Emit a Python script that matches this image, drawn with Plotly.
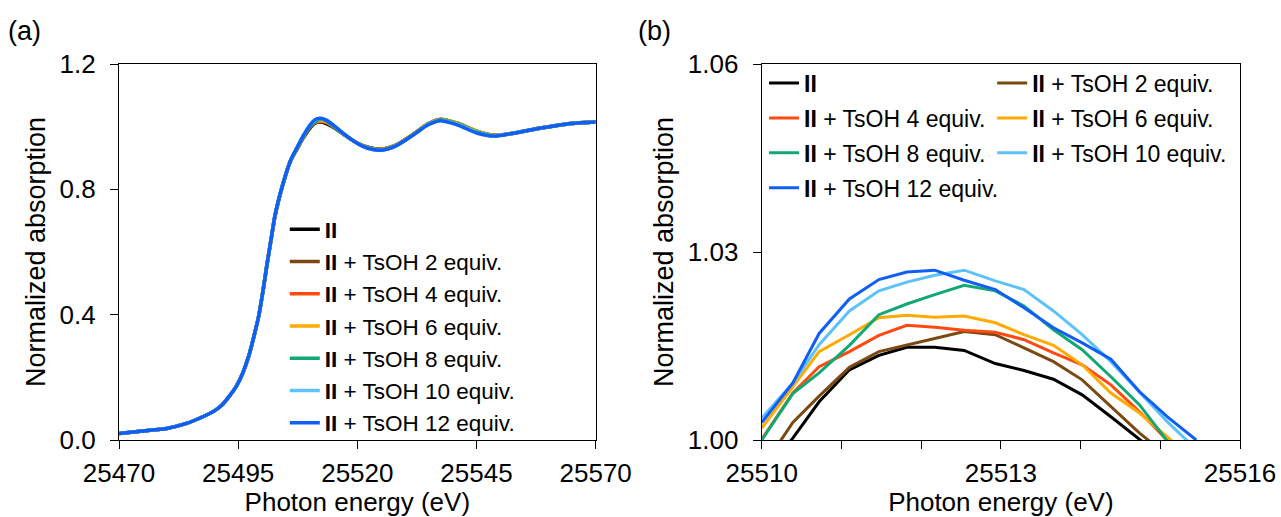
import plotly.graph_objects as go

# ---------------- data: panel (a) ----------------
energy_a = [25470, 25475, 25480, 25484, 25487.7, 25490, 25491.6, 25493, 25494.6, 25496,
            25497.2, 25498.3, 25499.3, 25500.2, 25501, 25502, 25502.7, 25503.8, 25504.9, 25506,
            25507.4, 25508.7, 25510, 25511, 25512.2, 25513.5, 25515.2, 25516.8, 25518.6, 25520.3,
            25522, 25525, 25528, 25531.4, 25534.9, 25537.4, 25540.9, 25545.2, 25548.6, 25552,
            25558, 25564.9, 25570]

a_II = [0.021, 0.029, 0.037, 0.052, 0.075, 0.093, 0.112, 0.137, 0.171, 0.215,
        0.267, 0.330, 0.395, 0.475, 0.555, 0.648, 0.712, 0.783, 0.842, 0.891,
        0.930, 0.965, 0.994, 1.010, 1.015, 1.010, 0.996, 0.979, 0.960, 0.945,
        0.935, 0.928, 0.940, 0.972, 1.009, 1.023, 1.011, 0.984, 0.972, 0.977,
        0.994, 1.010, 1.015]
a_2eq = [0.021, 0.029, 0.037, 0.052, 0.075, 0.093, 0.112, 0.137, 0.171, 0.215,
         0.267, 0.330, 0.395, 0.475, 0.555, 0.648, 0.712, 0.783, 0.842, 0.891,
         0.931, 0.966, 0.995, 1.011, 1.016, 1.013, 0.997, 0.980, 0.961, 0.945,
         0.935, 0.928, 0.941, 0.973, 1.010, 1.024, 1.012, 0.985, 0.973, 0.978,
         0.995, 1.011, 1.015]
a_4eq = [0.021, 0.029, 0.037, 0.052, 0.075, 0.093, 0.112, 0.137, 0.171, 0.215,
         0.267, 0.330, 0.395, 0.475, 0.555, 0.649, 0.713, 0.784, 0.843, 0.892,
         0.932, 0.968, 1.000, 1.013, 1.018, 1.015, 0.998, 0.980, 0.961, 0.945,
         0.934, 0.927, 0.940, 0.972, 1.009, 1.023, 1.011, 0.984, 0.972, 0.977,
         0.994, 1.010, 1.015]
a_6eq = [0.021, 0.029, 0.037, 0.052, 0.075, 0.093, 0.112, 0.137, 0.171, 0.215,
         0.267, 0.330, 0.395, 0.475, 0.556, 0.650, 0.714, 0.785, 0.844, 0.893,
         0.934, 0.970, 1.002, 1.016, 1.020, 1.016, 0.999, 0.980, 0.961, 0.945,
         0.934, 0.927, 0.940, 0.972, 1.009, 1.023, 1.012, 0.985, 0.972, 0.977,
         0.994, 1.010, 1.015]
a_8eq = [0.021, 0.029, 0.037, 0.052, 0.075, 0.093, 0.112, 0.137, 0.171, 0.215,
         0.267, 0.330, 0.395, 0.475, 0.556, 0.650, 0.714, 0.785, 0.844, 0.893,
         0.933, 0.969, 1.000, 1.014, 1.024, 1.019, 0.998, 0.980, 0.961, 0.945,
         0.933, 0.926, 0.939, 0.971, 1.008, 1.022, 1.010, 0.983, 0.971, 0.977,
         0.994, 1.010, 1.015]
a_10eq = [0.021, 0.029, 0.037, 0.052, 0.075, 0.093, 0.112, 0.137, 0.171, 0.215,
          0.267, 0.330, 0.395, 0.475, 0.555, 0.650, 0.715, 0.785, 0.843, 0.892,
          0.935, 0.972, 1.004, 1.020, 1.026, 1.022, 1.002, 0.982, 0.961, 0.944,
          0.932, 0.925, 0.938, 0.970, 1.007, 1.020, 1.008, 0.981, 0.971, 0.977,
          0.994, 1.010, 1.015]
a_12eq = [0.021, 0.029, 0.037, 0.052, 0.075, 0.093, 0.112, 0.137, 0.171, 0.215,
          0.267, 0.330, 0.395, 0.475, 0.555, 0.650, 0.715, 0.785, 0.843, 0.892,
          0.935, 0.972, 1.003, 1.021, 1.027, 1.020, 1.002, 0.982, 0.961, 0.944,
          0.932, 0.925, 0.938, 0.970, 1.006, 1.019, 1.006, 0.979, 0.970, 0.977,
          0.994, 1.010, 1.015]

# ---------------- data: panel (b) ----------------
energy_b = [25510.00, 25510.39, 25510.72, 25511.10, 25511.47, 25511.82, 25512.17, 25512.54,
            25512.93, 25513.29, 25513.66, 25514.02, 25514.38, 25514.74, 25515.09, 25515.45]

b_II = [0.9944, 1.0003, 1.0061, 1.0112, 1.0135, 1.0148, 1.0148, 1.0143,
        1.0122, 1.0111, 1.0097, 1.0072, 1.0037, 1.0001, 0.9965, 0.9930]
b_2eq = [0.9954, 1.0028, 1.0070, 1.0116, 1.0141, 1.0152, 1.0162, 1.0173,
         1.0168, 1.0147, 1.0125, 1.0096, 1.0053, 1.0011, 0.9975, 0.9940]
b_4eq = [1.0001, 1.0075, 1.0117, 1.0141, 1.0167, 1.0183, 1.0180, 1.0175,
         1.0172, 1.0160, 1.0139, 1.0120, 1.0088, 1.0045, 0.9999, 0.9955]
b_6eq = [1.0019, 1.0085, 1.0141, 1.0168, 1.0195, 1.0199, 1.0196, 1.0198,
         1.0187, 1.0168, 1.0151, 1.0120, 1.0075, 1.0043, 1.0004, 0.9965]
b_8eq = [1.0000, 1.0074, 1.0107, 1.0151, 1.0200, 1.0217, 1.0232, 1.0247,
         1.0238, 1.0214, 1.0176, 1.0144, 1.0101, 1.0056, 0.9998, 0.9940]
b_10eq = [1.0035, 1.0091, 1.0152, 1.0206, 1.0238, 1.0252, 1.0263, 1.0271,
          1.0254, 1.0240, 1.0206, 1.0168, 1.0125, 1.0077, 1.0029, 0.9985]
b_12eq = [1.0028, 1.0091, 1.0170, 1.0225, 1.0256, 1.0268, 1.0271, 1.0255,
          1.0240, 1.0211, 1.0179, 1.0155, 1.0129, 1.0077, 1.0037, 1.0000]

series_names = ["<b>II</b>",
                "<b>II</b> + TsOH 2 equiv.",
                "<b>II</b> + TsOH 4 equiv.",
                "<b>II</b> + TsOH 6 equiv.",
                "<b>II</b> + TsOH 8 equiv.",
                "<b>II</b> + TsOH 10 equiv.",
                "<b>II</b> + TsOH 12 equiv."]
series_colors = ["#000000", "#7B4A12", "#FF4A10", "#FFAA00", "#12A874", "#5EC2FA", "#0F5EF5"]

xticks_a = [25470, 25495, 25520, 25545, 25570]
xticklabels_a = ["25470", "25495", "25520", "25545", "25570"]
yticks_a = [0.0, 0.4, 0.8, 1.2]
yticklabels_a = ["0.0", "0.4", "0.8", "1.2"]
xticks_b = [25510, 25511, 25512, 25513, 25514, 25515, 25516]
xticklabels_b = ["25510", "", "", "25513", "", "", "25516"]
yticks_b = [1.00, 1.03, 1.06]
yticklabels_b = ["1.00", "1.03", "1.06"]

FONT = "Liberation Sans, Arial, sans-serif"

# ---------------- geometry (pixels) ----------------
W, H = 1281, 517
ML, MR, MT, MB = 119.3, 41.3, 64.3, 77
PW = W - ML - MR
PH = H - MT - MB


def px_x(p):
    return (p - ML) / PW


def px_y(p):
    return 1 - (p - MT) / PH


fig = go.Figure()

a_series = [a_II, a_2eq, a_4eq, a_6eq, a_8eq, a_10eq, a_12eq]
b_series = [b_II, b_2eq, b_4eq, b_6eq, b_8eq, b_10eq, b_12eq]

for i, ys in enumerate(a_series):
    fig.add_trace(go.Scatter(
        x=energy_a, y=ys, mode="lines", name=series_names[i],
        line=dict(color=series_colors[i], width=3.5, shape="spline", smoothing=0.8),
        xaxis="x", yaxis="y", legend="legend"))

for i, ys in enumerate(b_series):
    fig.add_trace(go.Scatter(
        x=energy_b, y=ys, mode="lines", name=series_names[i],
        line=dict(color=series_colors[i], width=3),
        xaxis="x2", yaxis="y2",
        legend="legend2" if i % 2 == 0 else "legend3",
        legendgroup="b%d" % i))

axis_common = dict(
    showline=True, linecolor="black", linewidth=1.3, mirror=True,
    ticks="outside", ticklen=8, tickwidth=1.3, tickcolor="black",
    showgrid=False, zeroline=False, automargin=False,
    tickfont=dict(family=FONT, size=26, color="black"),
)

legend_common = dict(
    bgcolor="rgba(0,0,0,0)", borderwidth=0,
    xanchor="left", yanchor="top",
)

fig.update_layout(
    width=W, height=H,
    margin=dict(l=ML, r=MR, t=MT, b=MB, autoexpand=False),
    paper_bgcolor="white", plot_bgcolor="white",
    font=dict(family=FONT, color="black"),
    xaxis=dict(domain=[0, px_x(595.7)], range=[25470, 25570], tickvals=xticks_a,
               ticktext=xticklabels_a, ticklabelstandoff=2,
               title=dict(text="Photon energy (eV)", font=dict(size=26, family=FONT), standoff=9),
               anchor="y", **axis_common),
    yaxis=dict(domain=[0, 1], range=[0, 1.2], tickvals=yticks_a, ticktext=yticklabels_a,
               title=dict(text="Normalized absorption", font=dict(size=27, family=FONT), standoff=6),
               anchor="x", ticklabelstandoff=9, **axis_common),
    xaxis2=dict(domain=[px_x(761.7), 1], range=[25510, 25516], tickvals=xticks_b,
                ticktext=xticklabels_b, ticklabelstandoff=2,
                title=dict(text="Photon energy (eV)", font=dict(size=26, family=FONT), standoff=9),
                anchor="y2", **axis_common),
    yaxis2=dict(domain=[0, 1], range=[1.00, 1.06], tickvals=yticks_b, ticktext=yticklabels_b,
                title=dict(text="Normalized absorption", font=dict(size=27, family=FONT), standoff=6),
                anchor="x2", ticklabelstandoff=9, **axis_common),
    legend=dict(x=px_x(285), y=px_y(208.2), font=dict(size=22.5, family=FONT, color="black"),
                **legend_common),
    legend2=dict(x=px_x(764), y=px_y(61.85), font=dict(size=23, family=FONT, color="black"),
                 tracegroupgap=2, **legend_common),
    legend3=dict(x=px_x(992), y=px_y(61.85), font=dict(size=23, family=FONT, color="black"),
                 tracegroupgap=2, **legend_common),
    annotations=[
        dict(text="(a)", x=px_x(6), y=px_y(31), xref="paper", yref="paper",
             xanchor="left", yanchor="middle", showarrow=False,
             font=dict(size=27, family=FONT, color="black")),
        dict(text="(b)", x=px_x(636), y=px_y(31), xref="paper", yref="paper",
             xanchor="left", yanchor="middle", showarrow=False,
             font=dict(size=27, family=FONT, color="black")),
    ],
)

fig.write_html("out.html")
